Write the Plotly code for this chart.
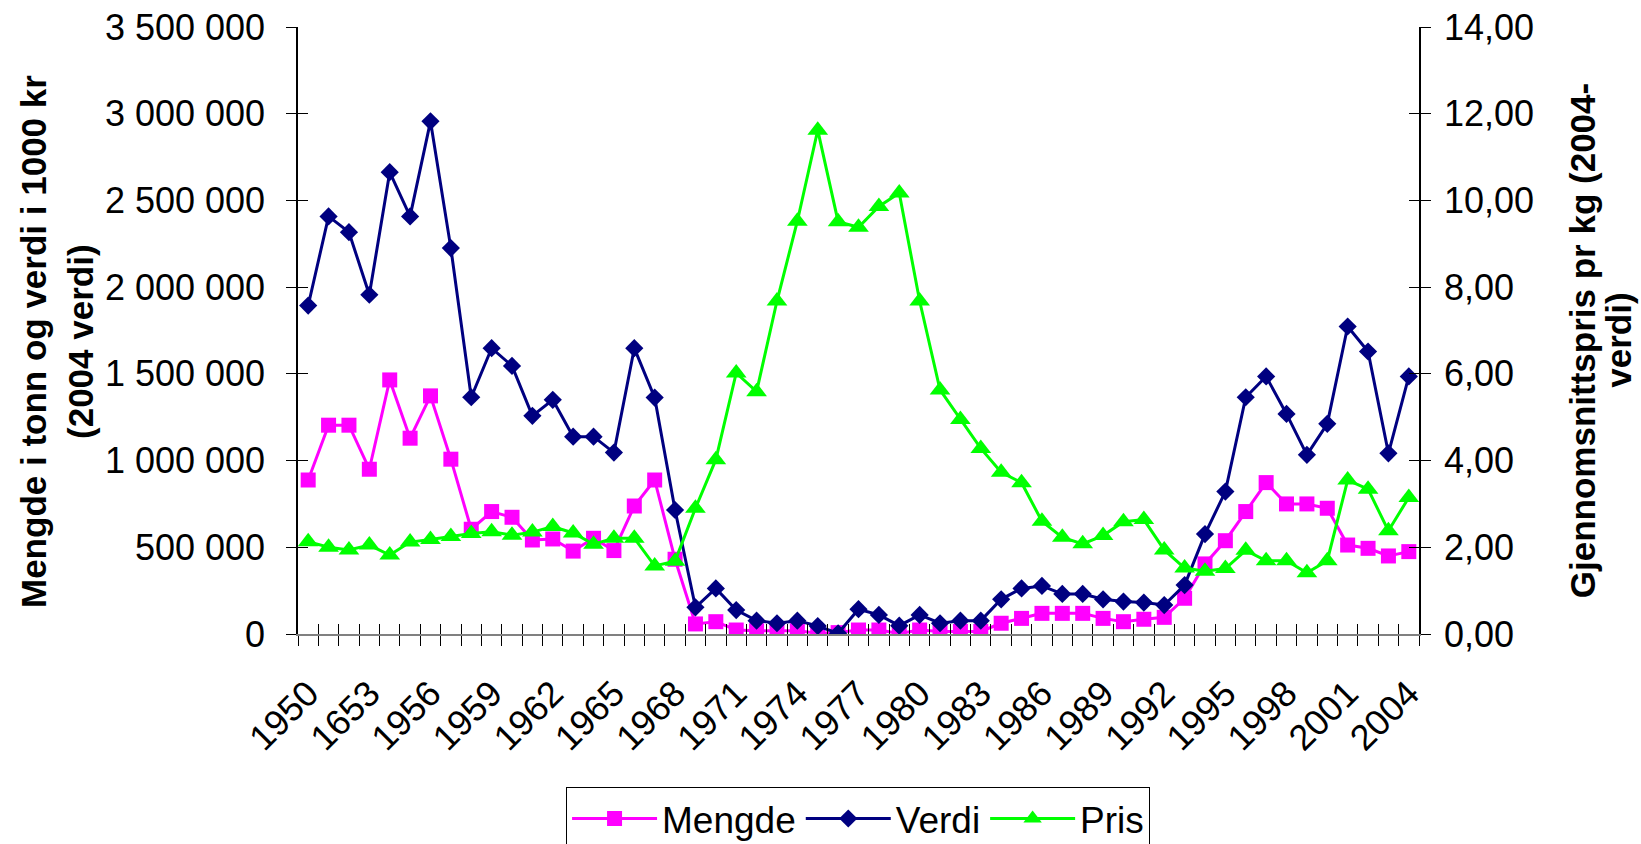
import plotly.graph_objects as go

years = list(range(1950, 2005))
tick_years = list(range(1950, 2005, 3))
tick_labels = ["1950", "1653", "1956", "1959", "1962", "1965", "1968", "1971", "1974",
               "1977", "1980", "1983", "1986", "1989", "1992", "1995", "1998", "2001", "2004"]

mengde = [888000, 1204000, 1204000, 950000, 1465000, 1129000, 1373000, 1008000, 604000, 706000,
          673000, 542000, 548000, 478000, 552000, 481000, 738000, 888000, 431000, 58000,
          71000, 23000, 19000, 19000, 19000, 5000, 8000, 23000, 23000, 3000,
          23000, 15000, 15000, 15000, 62000, 90000, 119000, 119000, 119000, 90000,
          71000, 85000, 96000, 206000, 404000, 538000, 706000, 873000, 750000, 750000,
          725000, 513000, 494000, 450000, 475000]

verdi = [1894000, 2408000, 2317000, 1956000, 2663000, 2408000, 2956000, 2225000, 1365000, 1648000,
         1546000, 1258000, 1350000, 1138000, 1138000, 1046000, 1648000, 1363000, 715000, 154000,
         263000, 138000, 77000, 62000, 77000, 46000, 4000, 143000, 110000, 48000,
         110000, 62000, 77000, 77000, 200000, 263000, 277000, 231000, 231000, 200000,
         187000, 181000, 167000, 282000, 576000, 821000, 1365000, 1485000, 1269000, 1033000,
         1212000, 1773000, 1629000, 1042000, 1485000]

pris = [2.13, 2.00, 1.94, 2.05, 1.82, 2.12, 2.18, 2.25, 2.32, 2.36,
        2.28, 2.35, 2.48, 2.33, 2.07, 2.21, 2.21, 1.57, 1.68, 2.90,
        4.02, 6.02, 5.59, 7.68, 9.52, 11.62, 9.51, 9.38, 9.86, 10.17,
        7.68, 5.63, 4.95, 4.28, 3.73, 3.49, 2.60, 2.23, 2.08, 2.27,
        2.59, 2.64, 1.94, 1.52, 1.45, 1.51, 1.93, 1.69, 1.69, 1.41,
        1.69, 3.55, 3.34, 2.38, 3.15]

left_ticks = [0, 500000, 1000000, 1500000, 2000000, 2500000, 3000000, 3500000]
right_ticks = [0, 2, 4, 6, 8, 10, 12, 14]

FONT = "Arial, Liberation Sans, sans-serif"
FS_TICK = 36
FS_TITLE = 35
FS_LEG = 37
W, H = 1641, 844
L, R, T, B = 298, 222, 27, 210

fig = go.Figure()
fig.add_trace(go.Scatter(x=years, y=mengde, name="Mengde", mode="lines+markers",
                         line=dict(color="#FF00FF", width=3),
                         marker=dict(symbol="square", size=15, color="#FF00FF")))
fig.add_trace(go.Scatter(x=years, y=verdi, name="Verdi", mode="lines+markers",
                         line=dict(color="#000080", width=3),
                         marker=dict(symbol="diamond", size=14, color="#000080")))
fig.add_trace(go.Scatter(x=years, y=pris, name="Pris", mode="lines+markers", yaxis="y2",
                         line=dict(color="#00FF00", width=3),
                         marker=dict(symbol="triangle-up", size=18, color="#00FF00")))
# empty helper traces so the overlay axes (inside halves of the crossing ticks) get drawn
fig.add_trace(go.Scatter(x=[None], y=[None], xaxis="x3", yaxis="y3", showlegend=False,
                         hoverinfo="skip"))
fig.add_trace(go.Scatter(x=[None], y=[None], xaxis="x", yaxis="y4", showlegend=False,
                         hoverinfo="skip"))

xr = [1949.5, 2004.5]
fig.update_layout(
    width=W, height=H,
    margin=dict(l=L, r=R, t=T, b=B, pad=0, autoexpand=False),
    paper_bgcolor="white", plot_bgcolor="white",
    separators=", ",
    font=dict(family=FONT, size=FS_TICK, color="black"),
    showlegend=True,
    legend=dict(orientation="h", x=0.4996, xanchor="center", y=-0.252, yanchor="top",
                bordercolor="black", borderwidth=1, bgcolor="white",
                font=dict(family=FONT, size=FS_LEG, color="black"),
                itemwidth=85, traceorder="normal"),
    xaxis=dict(range=xr, showgrid=False, zeroline=False,
               showline=True, linecolor="#808080", linewidth=2,
               tickmode="array", tickvals=tick_years, ticktext=tick_labels,
               tickangle=-45, ticks="", tickfont=dict(size=FS_TICK),
               ticklabelstandoff=22,
               minor=dict(ticks="outside", tick0=1949.5, dtick=1, ticklen=10,
                          tickcolor="black", tickwidth=1, showgrid=False)),
    xaxis3=dict(range=xr, overlaying="x", anchor="y", side="bottom",
                showgrid=False, zeroline=False, showline=False, showticklabels=False,
                tickmode="linear", tick0=1949.5, dtick=1, ticks="inside", ticklen=10,
                tickcolor="black", tickwidth=1),
    yaxis=dict(range=[0, 3500000], showgrid=False, zeroline=False,
               showline=True, linecolor="black", linewidth=1.5,
               tickmode="array", tickvals=left_ticks, tickformat=",d",
               ticks="outside", ticklen=10, tickcolor="black", tickwidth=1,
               ticklabelstandoff=14, tickfont=dict(size=FS_TICK)),
    yaxis3=dict(range=[0, 3500000], overlaying="y", anchor="x", side="left",
                showgrid=False, zeroline=False, showline=False, showticklabels=False,
                tickmode="array", tickvals=left_ticks, ticks="inside", ticklen=10,
                tickcolor="black", tickwidth=1),
    yaxis2=dict(range=[0, 14], overlaying="y", side="right", anchor="x",
                showgrid=False, zeroline=False,
                showline=True, linecolor="black", linewidth=1.5,
                tickmode="array", tickvals=right_ticks, tickformat=".2f",
                ticks="outside", ticklen=10, tickcolor="black", tickwidth=1,
                ticklabelstandoff=6, tickfont=dict(size=FS_TICK)),
    yaxis4=dict(range=[0, 14], overlaying="y", side="right", anchor="x",
                showgrid=False, zeroline=False, showline=False, showticklabels=False,
                tickmode="array", tickvals=right_ticks, ticks="inside", ticklen=10,
                tickcolor="black", tickwidth=1),
)

title_font = dict(family=FONT, size=FS_TITLE, color="black")
fig.add_annotation(text="<b>Mengde i tonn og verdi i 1000 kr</b>", textangle=-90,
                   xref="paper", yref="paper", x=-0.2364, y=0.4827,
                   xanchor="center", yanchor="middle", showarrow=False, font=title_font)
fig.add_annotation(text="<b>(2004 verdi)</b>", textangle=-90,
                   xref="paper", yref="paper", x=-0.1945, y=0.4827,
                   xanchor="center", yanchor="middle", showarrow=False, font=title_font)
fig.add_annotation(text="<b>Gjennomsnittspris pr kg (2004-</b>", textangle=-90,
                   xref="paper", yref="paper", x=1.1454, y=0.484,
                   xanchor="center", yanchor="middle", showarrow=False, font=title_font)
fig.add_annotation(text="<b>verdi)</b>", textangle=-90,
                   xref="paper", yref="paper", x=1.178, y=0.484,
                   xanchor="center", yanchor="middle", showarrow=False, font=title_font)

fig.write_html("out.html", include_plotlyjs=True, config={"displayModeBar": False},
               post_script="document.body.style.margin='0';document.body.style.overflow='hidden';")
